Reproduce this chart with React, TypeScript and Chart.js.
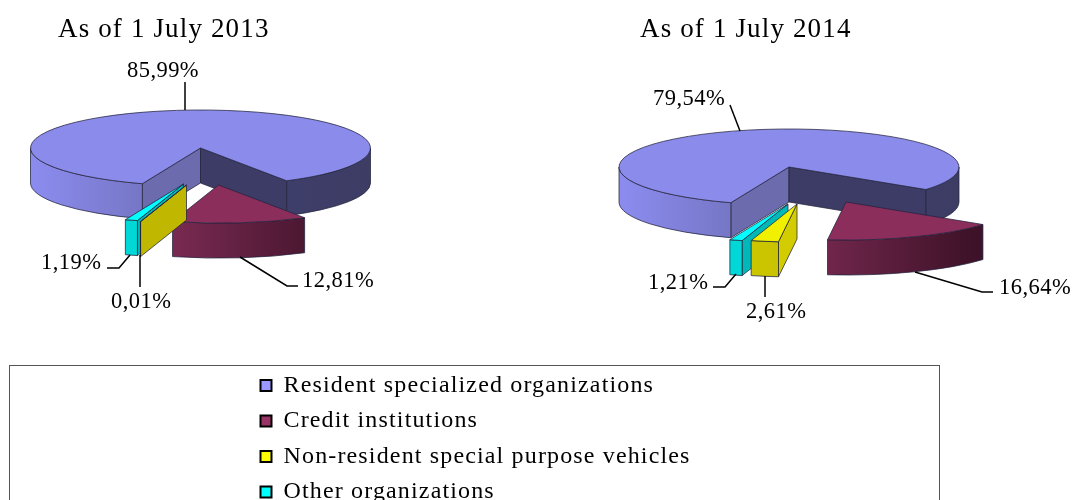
import React, { useEffect, useRef } from "react";
import { Chart, registerables } from "chart.js";

Chart.register(...registerables);

const categories = [
  "Resident specialized organizations",
  "Credit institutions",
  "Non-resident special purpose vehicles",
  "Other organizations",
];
const values2013 = [85.99, 12.81, 0.01, 1.19];
const values2014 = [79.54, 16.64, 2.61, 1.21];
const title2013 = "As of 1 July 2013";
const title2014 = "As of 1 July 2014";

const SERIF = "'Liberation Serif', 'Times New Roman', serif";
const swatches = ["#9999ff", "#993366", "#ffff00", "#00ffff"];
const topColors = ["#8b8bec", "#8c2e5c", "#f0f000", "#00ffff"];
const RADIUS = 170;
const SQUASH = 38 / 170;
const DEPTH = 35;

type Stops = [number, string][];
const outerStops: Stops[] = [
  [[0, "#8c8cf0"], [0.33, "#7676c6"], [0.5, "#50508a"], [0.75, "#3e3e6a"], [1, "#3c3c64"]],
  [[0, "#8c2e5c"], [0.36, "#7a2a52"], [0.87, "#3e1228"], [1, "#3a1026"]],
  [[0, "#d8d200"], [0.5, "#c8c200"], [1, "#b8b000"]],
  [[0, "#00dede"], [0.5, "#00d4d4"], [1, "#00c8c8"]],
];

function pct(v: number) {
  return v.toFixed(2).replace(".", ",") + "%";
}

type PieSpec = {
  cx: number;
  cy: number;
  offsets: number[][];
  startWalls: string[];
  endWalls: string[];
  texts: { x: number; y: number; index: number }[];
  leaders: number[][][];
};

const spec2013: PieSpec = {
  cx: 200.5,
  cy: 148,
  offsets: [[0, 0], [18, 37], [-14, 37], [-17, 36]],
  startWalls: ["#6b6bae", "#6a2244", "#bfb700", "#00b8b8"],
  endWalls: ["#3c3c66", "#5a1c3a", "#bfb700", "#00b8b8"],
  texts: [
    { x: 127, y: 71, index: 0 },
    { x: 302, y: 281, index: 1 },
    { x: 111, y: 302, index: 2 },
    { x: 41, y: 263, index: 3 },
  ],
  leaders: [
    [[185, 82], [185, 110]],
    [[240, 257], [287, 286], [298, 286]],
    [[140, 255], [140, 287]],
    [[107, 268], [119, 268], [130, 255]],
  ],
};

const spec2014: PieSpec = {
  cx: 789,
  cy: 167,
  offsets: [[0, 0], [57, 35], [8, 37], [-1, 37]],
  startWalls: ["#6b6bae", "#6a2244", "#d2cc00", "#00b8b8"],
  endWalls: ["#3c3c66", "#5a1c3a", "#d2cc00", "#00b8b8"],
  texts: [
    { x: 653, y: 99, index: 0 },
    { x: 999, y: 288, index: 1 },
    { x: 746, y: 312, index: 2 },
    { x: 648, y: 283, index: 3 },
  ],
  leaders: [
    [[730, 105], [740, 131]],
    [[915, 272], [982, 292], [993, 292]],
    [[765, 276], [765, 297]],
    [[713, 287], [725, 287], [736, 274]],
  ],
};

const EDGE = "rgba(35,35,60,0.75)";
const FRONT_ORDER = [0, 1, 3, 2];

function pie3dPlugin(spec: PieSpec, values: number[]) {
  return {
    id: "pie3d",
    beforeDraw(chart: any) {
      chart.ctx.letterSpacing = "1.15px";
    },
    beforeDatasetsDraw(chart: any) {
      const ctx: CanvasRenderingContext2D = chart.ctx;
      ctx.letterSpacing = "0px";
      const arcs = chart.getDatasetMeta(0).data;
      for (const i of FRONT_ORDER) {
        const arc = arcs[i];
        const [dx, dy] = spec.offsets[i];
        const X = spec.cx + dx;
        const Y = spec.cy + dy;
        const rx = arc.outerRadius;
        const ry = rx * SQUASH;
        const tau = Math.PI * 2;
        const s = ((arc.startAngle % tau) + tau) % tau;
        const e = s + (arc.endAngle - arc.startAngle);
        const px = (a: number) => X + Math.cos(a) * rx;
        const py = (a: number) => Y + Math.sin(a) * ry;

        const wall = (a: number, color: string) => {
          ctx.beginPath();
          ctx.moveTo(X, Y);
          ctx.lineTo(px(a), py(a));
          ctx.lineTo(px(a), py(a) + DEPTH);
          ctx.lineTo(X, Y + DEPTH);
          ctx.closePath();
          ctx.fillStyle = color;
          ctx.fill();
          ctx.strokeStyle = EDGE;
          ctx.lineWidth = 1;
          ctx.stroke();
        };
        // radial faces that look towards the viewer
        if (Math.cos(s) < 0) wall(s, spec.startWalls[i]);
        if (Math.cos(e) > 0) wall(e, spec.endWalls[i]);

        // curved rim on the front half
        const grad = ctx.createLinearGradient(X - rx, 0, X + rx, 0);
        outerStops[i].forEach(([t, c]) => grad.addColorStop(t, c));
        for (const k of [0, 1]) {
          const a = Math.max(s, k * tau);
          const b = Math.min(e, k * tau + Math.PI);
          if (b <= a) continue;
          ctx.beginPath();
          ctx.ellipse(X, Y, rx, ry, 0, a, b);
          ctx.lineTo(px(b), py(b) + DEPTH);
          ctx.ellipse(X, Y + DEPTH, rx, ry, 0, b, a, true);
          ctx.closePath();
          ctx.fillStyle = grad;
          ctx.fill();
          ctx.strokeStyle = EDGE;
          ctx.lineWidth = 1;
          ctx.stroke();
        }

        // top face: the library's own arc, flattened
        ctx.save();
        ctx.translate(X, Y);
        ctx.scale(1, SQUASH);
        ctx.translate(-arc.x, -arc.y);
        arc.draw(ctx);
        ctx.restore();
        ctx.beginPath();
        ctx.moveTo(X, Y);
        ctx.ellipse(X, Y, rx, ry, 0, s, e);
        ctx.closePath();
        ctx.strokeStyle = EDGE;
        ctx.lineWidth = 1;
        ctx.stroke();
      }

      ctx.strokeStyle = "#000";
      ctx.lineWidth = 1.5;
      spec.leaders.forEach((pts) => {
        ctx.beginPath();
        pts.forEach(([x, y], n) => (n ? ctx.lineTo(x, y) : ctx.moveTo(x, y)));
        ctx.stroke();
      });

      ctx.fillStyle = "#000";
      ctx.font = `22.5px ${SERIF}`;
      ctx.textAlign = "left";
      ctx.textBaseline = "middle";
      ctx.letterSpacing = "0.45px";
      spec.texts.forEach((t) => ctx.fillText(pct(values[t.index]), t.x, t.y));
      ctx.letterSpacing = "0px";
      return false;
    },
  };
}

function makePie(canvas: HTMLCanvasElement, values: number[], title: string, left: number, spec: PieSpec, rotation: number) {
  return new Chart(canvas, {
    type: "pie",
    data: {
      labels: categories,
      datasets: [{ data: values, backgroundColor: topColors, borderWidth: 0 }],
    },
    options: {
      responsive: false,
      animation: false,
      rotation,
      radius: RADIUS,
      layout: { padding: { left, top: 14 } },
      plugins: {
        legend: { display: false },
        tooltip: { enabled: false },
        title: {
          display: true,
          text: title,
          align: "start",
          color: "#000",
          font: { family: SERIF, size: 27, weight: "normal" },
          padding: 0,
        },
      },
    } as any,
    plugins: [pie3dPlugin(spec, values)],
  });
}

export default function App() {
  const a = useRef<HTMLCanvasElement>(null);
  const b = useRef<HTMLCanvasElement>(null);
  const c = useRef<HTMLCanvasElement>(null);

  useEffect(() => {
    document.body.style.margin = "0";
    const c1 = makePie(a.current!, values2013, title2013, 58, spec2013, 200);
    const c2 = makePie(b.current!, values2014, title2014, 640, spec2014, 200);
    const c3 = new Chart(c.current!, {
      type: "pie",
      data: {
        labels: categories,
        datasets: [{ data: values2014, backgroundColor: swatches, borderColor: "#000", borderWidth: 2 }],
      },
      options: {
        responsive: false,
        animation: false,
        layout: { padding: 0 },
        plugins: {
          tooltip: { enabled: false },
          legend: {
            display: true,
            position: "left",
            align: "start",
            maxWidth: 680,
            labels: {
              boxWidth: 11,
              boxHeight: 11,
              padding: 11.5,
              color: "#000",
              font: { family: SERIF, size: 24 },
            },
          },
        },
      } as any,
      plugins: [
        {
          id: "legendOnly",
          beforeLayout(chart: any) {
            chart.ctx.letterSpacing = "1.15px";
          },
          beforeDraw(chart: any) {
            chart.ctx.letterSpacing = "1.15px";
          },
          beforeDatasetsDraw() {
            return false;
          },
        },
      ],
    });
    return () => {
      c1.destroy();
      c2.destroy();
      c3.destroy();
    };
  }, []);

  const abs: React.CSSProperties = { position: "absolute", left: 0, top: 0 };
  return (
    <div style={{ position: "absolute", left: 0, top: 0, width: 1072, height: 500, overflow: "hidden", background: "#fff" }}>
      <canvas ref={a} width={1072} height={360} style={{ ...abs, display: "block" }} />
      <canvas ref={b} width={1072} height={360} style={{ ...abs, display: "block" }} />
      <div style={{ position: "absolute", left: 9, top: 365, width: 929, height: 160, border: "1px solid #555" }} />
      <canvas ref={c} width={760} height={200} style={{ position: "absolute", left: 249, top: 362, display: "block" }} />
    </div>
  );
}
